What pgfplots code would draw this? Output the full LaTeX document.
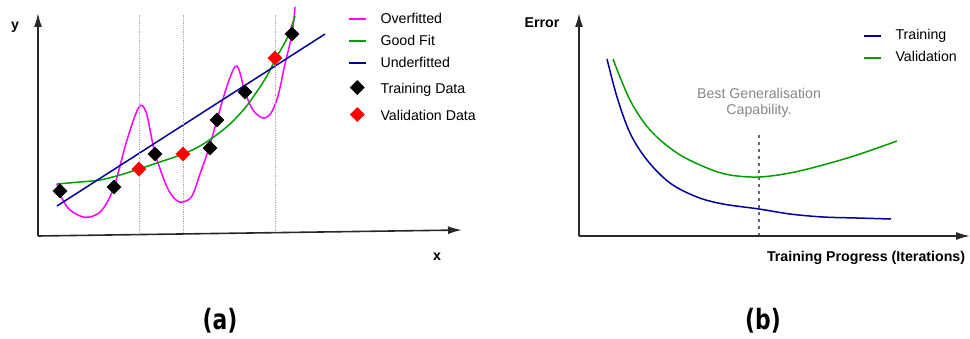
\documentclass[border=0pt]{standalone}
\usepackage{pgfplots}
\pgfplotsset{compat=1.18}
\usepackage{fontspec}
\setmainfont{Liberation Sans}
\newfontfamily\capfont{DejaVu Sans}[FakeStretch=0.78]
\usetikzlibrary{arrows.meta}

\definecolor{overfit}{RGB}{255,0,255}
\definecolor{goodfit}{RGB}{0,158,0}
\definecolor{underfit}{RGB}{0,0,155}
\definecolor{axisgrey}{RGB}{40,40,40}
\definecolor{notegrey}{RGB}{135,135,135}

\tikzset{axis arrow/.style={axisgrey, line width=1.6pt,
      -{Latex[length=14pt,width=8pt]}}}

\pgfplotsset{
  panel/.style={
    x=1pt, y=1pt, axis lines=none, clip=false, anchor=south west,
    xmin=0, ymin=0,
    legend cell align=left,
    legend style={draw=none, fill=none, inner sep=0pt, outer sep=0pt,
      column sep=14pt,
      font=\fontsize{14.2}{16}\selectfont,
      nodes={inner sep=0pt, text height=11pt, text depth=3pt}},
  },
  curve/.style={line width=1.5pt, smooth, tension=0.55},
  diamond pt/.style={only marks, mark=square*, mark size=5pt,
      mark options={rotate=45}},
}

\begin{document}
\fontsize{14.2}{16.5}\selectfont
\begin{tikzpicture}[x=1pt,y=1pt]
\useasboundingbox (0,0) rectangle (970,338);

% ---------------- (a) fitting regimes ----------------
\begin{axis}[panel, at={(38,102)}, xmax=440, ymax=240,
  legend style={at={(0.7045,0.933)}, anchor=north west, row sep=8pt}]
\addplot[overfit, curve] coordinates {
  (19,52) (22,42) (30,28) (42,20) (52,19) (64,26) (76,49) (89,96)
  (101,129) (108,124) (114,96) (117,82) (129,49) (138,36) (145,34)
  (154,40) (162,62) (171,88) (179,116) (190,153) (199,170) (207,144)
  (215,126) (225,118) (233,123) (240,140) (247,172) (254,202) (257,229)};
\addlegendentry{Overfitted}
\addplot[goodfit, curve] coordinates {
  (19,52) (42,54) (62,56) (82,61) (101,67) (122,74) (145,82) (162,90)
  (177,100) (192,112) (207,128) (220,146) (230,162) (238,178) (245,190)
  (251,202) (255,214) (257,220)};
\addlegendentry{Good Fit}
\addplot[underfit, line width=1.5pt] coordinates {(19,30) (287,202)};
\addlegendentry{Underfitted}
\addplot[black, diamond pt] coordinates {
  (22,45) (76,49) (117,82) (172,88) (179,116) (207,144) (254,202)};
\addlegendentry[text height=15pt, text depth=4pt]{Training Data}
\addplot[red, diamond pt] coordinates {
  (101,67) (145,82) (237,178)};
\addlegendentry[text height=15pt, text depth=4pt]{Validation Data}

% guides through the validation points
\addplot[gray!65, densely dotted, line width=0.8pt, forget plot] coordinates {(101,3) (101,221)};
\addplot[gray!65, densely dotted, line width=0.8pt, forget plot] coordinates {(145,3) (145,221)};
\addplot[gray!65, densely dotted, line width=0.8pt, forget plot] coordinates {(237,3) (237,221)};

\draw[axis arrow] (axis cs:0,0) -- (axis cs:0,223);
\draw[axis arrow] (axis cs:0,0) -- (axis cs:424,6);
\node[font=\bfseries] at (axis cs:-23,209) {y};
\node[font=\bfseries] at (axis cs:399,-21) {x};
\end{axis}

% ---------------- (b) error during training ----------------
\begin{axis}[panel, at={(579,102)}, xmax=391, ymax=240,
  legend style={at={(0.7263,0.8625)}, anchor=north west, row sep=8pt}]
\addplot[underfit, curve] coordinates {
  (28,177) (38,139) (51,103) (68,76) (91,53) (118,39) (144,32) (180,27)
  (211,22) (244,19) (278,18) (312,17)};
\addlegendentry{Training}
\addplot[goodfit, curve] coordinates {
  (34,177) (51,136) (71,106) (98,83) (128,68) (151,61) (180,59) (211,63)
  (244,71) (278,81) (318,95)};
\addlegendentry{Validation}

\addplot[black!60, line width=1.6pt, dash pattern=on 3.5pt off 3.5pt, forget plot]
  coordinates {(180,0) (180,105)};
\node[notegrey, align=center] at (axis cs:180,133)
  {Best Generalisation\\Capability.};

\draw[axis arrow] (axis cs:0,0) -- (axis cs:0,223);
\draw[axis arrow] (axis cs:0,0) -- (axis cs:391,0);
\node[font=\bfseries] at (axis cs:-37,213) {Error};
\node[font=\bfseries, anchor=east] at (axis cs:391,-22) {Training Progress (Iterations)};
\end{axis}

\node[font=\capfont\bfseries\fontsize{28}{30}\selectfont] at (220,17) {(a)};
\node[font=\capfont\bfseries\fontsize{28}{30}\selectfont] at (763,17) {(b)};
\end{tikzpicture}
\end{document}
